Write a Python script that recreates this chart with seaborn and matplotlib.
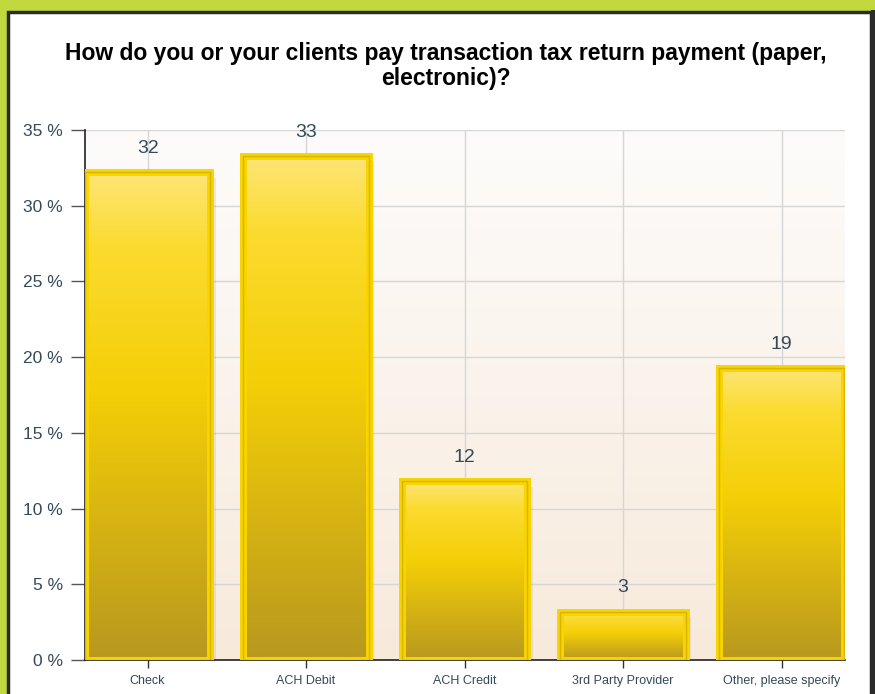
import numpy as np
import pandas as pd
import seaborn as sns
import matplotlib.pyplot as plt
from matplotlib.colors import LinearSegmentedColormap
from matplotlib.patches import Rectangle

categories = ["Check", "ACH Debit", "ACH Credit", "3rd Party Provider", "Other, please specify"]
percent = [32.2, 33.3, 11.8, 3.2, 19.3]
labels = ["32", "33", "12", "3", "19"]
yticks = [0, 5, 10, 15, 20, 25, 30, 35]

df = pd.DataFrame({"Category": categories, "Percent": percent})

sns.set_theme(style="white")
plt.rcParams["font.family"] = ["Liberation Sans", "DejaVu Sans"]

fig = plt.figure(figsize=(8.75, 6.94), dpi=100)
fig.patch.set_facecolor("#c2d83f")

# white card with dark frame
card = Rectangle((8 / 875, -0.01), 863 / 875, 1 - 12 / 694 + 0.01,
                 transform=fig.transFigure, facecolor="white",
                 edgecolor="#2b2b2b", linewidth=2.5, zorder=-5)
fig.patches.append(card)
fig.patches.append(Rectangle((871 / 875, 0), 4 / 875, 1 - 10 / 694,
                             transform=fig.transFigure, facecolor="#2b2b2b",
                             edgecolor="none", zorder=-4))

ax = fig.add_axes([85 / 875, 1 - 660 / 694, 760 / 875, 530 / 694])
ax.set_zorder(2)
ax.set_facecolor("none")

# background gradient inside plot area (white at top, beige at bottom)
bg = LinearSegmentedColormap.from_list("bg", ["#fdfcfb", "#f7eadb"])
ax.imshow(np.linspace(0, 1, 256).reshape(-1, 1), cmap=bg, aspect="auto",
          extent=(-0.395, 4.4, 0, 35), zorder=0)

sns.barplot(data=df, x="Category", y="Percent", ax=ax, width=0.79,
            color="#f9d300", edgecolor="#e8c200", linewidth=1.5, zorder=3)

bar_cmap = LinearSegmentedColormap.from_list(
    "bar", [(0, "#fde577"), (0.15, "#fbdb30"), (0.45, "#f4ce06"), (1, "#b8981f")])
for p in list(ax.patches):
    x0, w, h = p.get_x(), p.get_width(), p.get_height()
    # soft drop shadow to the lower right
    for k, a in enumerate([0.35, 0.2, 0.1]):
        ax.add_patch(Rectangle((x0 + 0.012 * (k + 1), -0.12 * (k + 1)), w, h,
                               facecolor="#555555", alpha=a, edgecolor="none", zorder=2))
    im = ax.imshow(np.linspace(0, 1, 256).reshape(-1, 1), cmap=bar_cmap,
                   aspect="auto", extent=(x0, x0 + w, 0, h), zorder=3.5)
    im.set_clip_path(p)
    ax.add_patch(Rectangle((x0, 0), w, h, facecolor="none",
                           edgecolor="#f8d400", linewidth=5, zorder=4))
    ax.add_patch(Rectangle((x0, 0), w, h, facecolor="none",
                           edgecolor="#d9b400", linewidth=1, zorder=4.5))

for i, (v, lab) in enumerate(zip(percent, labels)):
    ax.text(i, v + 1.0, lab, ha="center", va="bottom", fontsize=14,
            color="#34495a", zorder=5)

ax.set_xlim(-0.395, 4.4)
ax.set_ylim(0, 35)
ax.set_yticks(yticks)
ax.set_yticklabels([f"{t} %" for t in yticks], fontsize=12.5, color="#34495a")
ax.set_xticks(range(len(categories)))
ax.set_xticklabels(categories, fontsize=9, color="#34495a")
ax.set_xlabel("")
ax.set_ylabel("")
ax.grid(True, color="#d6d6d6", linewidth=1, zorder=1)
ax.set_axisbelow(True)
ax.tick_params(axis="y", length=10, width=1, color="#555555", left=True, pad=6)
ax.tick_params(axis="x", length=6, width=1, color="#333333", bottom=True, pad=5)
for side in ["top", "right"]:
    ax.spines[side].set_visible(False)
for side in ["left", "bottom"]:
    ax.spines[side].set_color("#222222")
    ax.spines[side].set_linewidth(1.2)

fig.text(446 / 875, 1 - 66 / 694,
         "How do you or your clients pay transaction tax return payment (paper,\nelectronic)?",
         ha="center", va="center", fontsize=16.5, fontweight="bold", color="black",
         linespacing=1.12)

fig.savefig("out.png", dpi=100, facecolor=fig.get_facecolor())
